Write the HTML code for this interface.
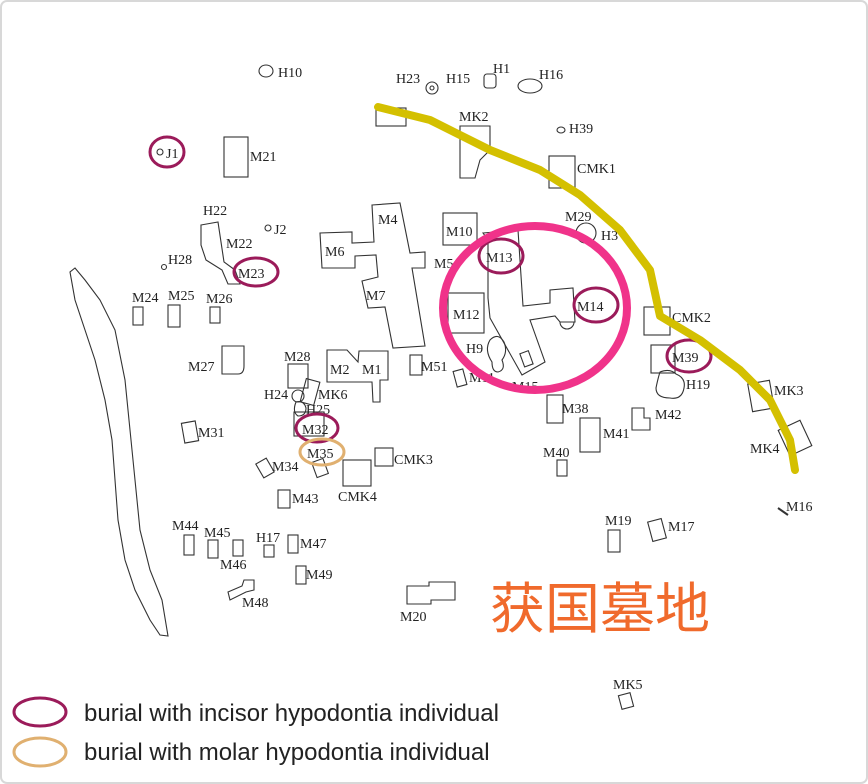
<!DOCTYPE html>
<html><head><meta charset="utf-8"><style>
html,body{margin:0;padding:0;background:#fff;}
svg{display:block;}
.t{font-family:"Liberation Serif",serif;font-size:14px;fill:#222;}
.s{fill:none;stroke:#333;stroke-width:1.1;}
</style></head><body>
<svg width="868" height="784" viewBox="0 0 868 784" xmlns="http://www.w3.org/2000/svg">
<rect x="1" y="1" width="866" height="782" rx="6" fill="#fff" stroke="#d8d8d8" stroke-width="2"/>
<g class="s">
<ellipse cx="266" cy="71" rx="7" ry="6"/>
<circle cx="432" cy="88" r="6"/><circle cx="432" cy="88" r="2"/>
<rect x="484" y="74" width="12" height="14" rx="3"/>
<ellipse cx="530" cy="86" rx="12" ry="7"/>
<rect x="376" y="108" width="30" height="18"/>
<polygon points="460,126 490,126 490,150 480,160 475,178 460,178"/>
<ellipse cx="561" cy="130" rx="4" ry="3"/>
<rect x="549" y="156" width="26" height="32"/>
<circle cx="586" cy="233" r="10"/>
<circle cx="160" cy="152" r="3"/>
<rect x="224" y="137" width="24" height="40"/>
<circle cx="268" cy="228" r="3"/>
<circle cx="164" cy="267" r="2.5"/>
<polygon points="201,225 218,222 224,262 235,270 240,284 228,284 222,270 206,260 201,245"/>
<rect x="133" y="307" width="10" height="18"/>
<rect x="168" y="305" width="12" height="22"/>
<rect x="210" y="307" width="10" height="16"/>
<path d="M222,346 h22 v20 q0,8 -6,8 h-16 z"/>
<polygon points="372,205 400,203 410,253 425,252 425,268 412,268 425,346 393,348 385,307 368,308 362,281 378,277 376,255 355,256 355,268 322,268 320,233 352,232 352,243 374,242"/>
<rect x="443" y="213" width="34" height="32"/>
<rect x="448" y="293" width="36" height="40"/>
<polygon points="483,233 518,230 523,306 550,303 550,290 573,288 575,322 560,322 555,316 530,320 545,362 522,375 490,318 488,298 488,240"/>
<path d="M560,322 a7,7 0 0 0 14,0"/>
<rect x="522" y="352" width="9" height="14" transform="rotate(-20 526 359)"/>
<path d="M490,340 q8,-8 14,2 q4,10 -2,18 q4,10 -4,12 q-6,0 -6,-10 q-8,-12 -2,-22z"/>
<rect x="410" y="355" width="12" height="20"/>
<rect x="455" y="370" width="10" height="16" transform="rotate(-15 460 378)"/>
<rect x="547" y="395" width="16" height="28"/>
<rect x="644" y="307" width="26" height="28"/>
<rect x="651" y="345" width="24" height="28"/>
<path d="M660,372 q10,-4 16,2 q10,4 8,14 q-2,12 -14,10 q-14,0 -14,-10 q2,-10 4,-16z"/>
<path d="M632,408 h12 v10 h6 v12 h-18 z"/>
<rect x="580" y="418" width="20" height="34"/>
<rect x="557" y="460" width="10" height="16"/>
<rect x="750" y="382" width="22" height="28" transform="rotate(-10 761 396)"/>
<rect x="783" y="424" width="24" height="28" transform="rotate(-25 795 438)"/>
<line x1="778" y1="508" x2="788" y2="515" stroke-width="2"/>
<rect x="608" y="530" width="12" height="22"/>
<rect x="650" y="520" width="14" height="20" transform="rotate(-15 657 530)"/>
<rect x="620" y="694" width="12" height="14" transform="rotate(-15 626 701)"/>
<path d="M407,586 h22 v-4 h26 v18 h-24 v4 h-24 z"/>
<rect x="288" y="364" width="20" height="24"/>
<rect x="303" y="380" width="14" height="24" transform="rotate(15 310 392)"/>
<circle cx="298" cy="396" r="6"/>
<path d="M296,402 q8,-2 10,6 q0,8 -8,8 q-6,-4 -2,-14z"/>
<polygon points="327,350 347,350 358,362 359,351 388,351 388,380 380,380 380,402 373,402 372,382 327,382"/>
<rect x="294" y="412" width="30" height="24"/>
<rect x="314" y="460" width="12" height="16" transform="rotate(-20 320 468)"/>
<rect x="183" y="422" width="14" height="20" transform="rotate(-10 190 432)"/>
<rect x="259" y="460" width="12" height="16" transform="rotate(-30 265 468)"/>
<rect x="375" y="448" width="18" height="18"/>
<rect x="343" y="460" width="28" height="26"/>
<rect x="278" y="490" width="12" height="18"/>
<rect x="184" y="535" width="10" height="20"/>
<rect x="208" y="540" width="10" height="18"/>
<rect x="233" y="540" width="10" height="16"/>
<rect x="264" y="545" width="10" height="12"/>
<rect x="288" y="535" width="10" height="18"/>
<rect x="296" y="566" width="10" height="18"/>
<path d="M228,592 l14,-6 l2,-6 l10,0 l0,10 l-8,2 l-16,8 z"/>
<polygon points="70,272 75,300 85,330 95,360 105,400 112,440 115,480 118,520 125,560 135,590 150,620 160,635 168,636 162,600 150,570 140,530 135,480 130,430 125,380 115,330 100,300 85,280 75,268"/>
</g>
<g class="t">
<text x="278" y="77">H10</text>
<text x="396" y="83">H23</text><text x="446" y="83">H15</text>
<text x="493" y="73">H1</text><text x="539" y="79">H16</text>
<text x="459" y="121">MK2</text><text x="569" y="133">H39</text>
<text x="577" y="173">CMK1</text>
<text x="565" y="221">M29</text><text x="601" y="240">H3</text>
<text x="166" y="158">J1</text><text x="250" y="161">M21</text>
<text x="203" y="215">H22</text><text x="274" y="234">J2</text>
<text x="226" y="248">M22</text><text x="168" y="264">H28</text>
<text x="238" y="278">M23</text>
<text x="132" y="302">M24</text><text x="168" y="300">M25</text><text x="206" y="303">M26</text>
<text x="378" y="224">M4</text><text x="325" y="256">M6</text><text x="366" y="300">M7</text>
<text x="434" y="268">M5</text><text x="446" y="236">M10</text>
<text x="486" y="262">M13</text><text x="453" y="319">M12</text><text x="577" y="311">M14</text>
<text x="466" y="353">H9</text><text x="421" y="371">M51</text><text x="469" y="382">M11</text>
<text x="512" y="391">M15</text><text x="562" y="413">M38</text>
<text x="672" y="322">CMK2</text><text x="672" y="362">M39</text><text x="686" y="389">H19</text>
<text x="655" y="419">M42</text><text x="603" y="438">M41</text><text x="543" y="457">M40</text>
<text x="774" y="395">MK3</text><text x="750" y="453">MK4</text><text x="786" y="511">M16</text>
<text x="605" y="525">M19</text><text x="668" y="531">M17</text>
<text x="613" y="689">MK5</text><text x="400" y="621">M20</text>
<text x="188" y="371">M27</text><text x="284" y="361">M28</text>
<text x="264" y="399">H24</text><text x="318" y="399">MK6</text><text x="306" y="414">H25</text>
<text x="330" y="374">M2</text><text x="362" y="374">M1</text>
<text x="302" y="434">M32</text><text x="307" y="458">M35</text>
<text x="198" y="437">M31</text><text x="272" y="471">M34</text>
<text x="394" y="464">CMK3</text><text x="338" y="501">CMK4</text><text x="292" y="503">M43</text>
<text x="172" y="530">M44</text><text x="204" y="537">M45</text><text x="220" y="569">M46</text>
<text x="256" y="542">H17</text><text x="300" y="548">M47</text><text x="306" y="579">M49</text>
<text x="242" y="607">M48</text>
</g>
<g fill="none" stroke="#9b1b5a" stroke-width="3">
<ellipse cx="167" cy="152" rx="17" ry="15"/>
<ellipse cx="256" cy="272" rx="22" ry="14"/>
<ellipse cx="501" cy="256" rx="22" ry="17"/>
<ellipse cx="596" cy="305" rx="22" ry="17"/>
<ellipse cx="689" cy="356" rx="22" ry="16"/>
<ellipse cx="317" cy="428" rx="21" ry="14"/>
<ellipse cx="40" cy="712" rx="26" ry="14"/>
</g>
<g fill="none" stroke="#e0b070" stroke-width="3">
<ellipse cx="322" cy="452" rx="22" ry="13"/>
<ellipse cx="40" cy="752" rx="26" ry="14"/>
</g>
<ellipse cx="535" cy="308" rx="92" ry="82" fill="none" stroke="#f0338a" stroke-width="8"/>
<polyline points="378,107 430,120 490,150 540,170 580,195 620,230 650,270 660,316 700,340 740,370 770,400 790,440 795,470" fill="none" stroke="#d4c000" stroke-width="8" stroke-linecap="round" stroke-linejoin="round"/>
<text x="490" y="628" font-family="'Liberation Sans','Noto Sans CJK SC',sans-serif" font-size="55" fill="#f06a2c">获国墓地</text>
<text x="84" y="721" font-family="'Liberation Sans',sans-serif" font-size="24" fill="#222">burial with incisor hypodontia individual</text>
<text x="84" y="760" font-family="'Liberation Sans',sans-serif" font-size="24" fill="#222">burial with molar hypodontia individual</text>
</svg>
</body></html>
